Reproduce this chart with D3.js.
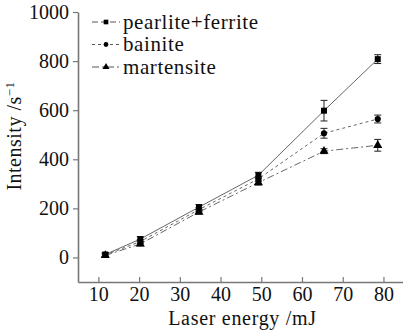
<!DOCTYPE html>
<html>
<head>
<meta charset="utf-8">
<script src="https://cdn.jsdelivr.net/npm/d3@7"></script>
<style>
  body { margin: 0; background: #fff; }
</style>
</head>
<body>
<div id="chart"></div>
<script>
// laser energy (mJ) for each measurement
const energy = [11.7, 20.3, 34.7, 49.3, 65.4, 78.6];

const pearlite = [12, 75, 205, 335, 598, 808];
const pearliteErr = [8, 10, 10, 12, 42, 18];
const bainite = [10, 65, 195, 320, 506, 564];
const bainiteErr = [6, 8, 8, 10, 20, 16];
const martensite = [8, 55, 185, 305, 433, 457];
const martensiteErr = [6, 8, 8, 10, 10, 24];

const seriesNames = ['pearlite+ferrite', 'bainite', 'martensite'];
const xTicks = [10, 20, 30, 40, 50, 60, 70, 80];
const yTicks = [0, 200, 400, 600, 800, 1000];

const width = 403, height = 333;
const margin = { top: 12, right: 0, bottom: 51, left: 78 };
const font = "'Liberation Serif', 'Times New Roman', serif";

const svg = d3.select('#chart').append('svg')
    .attr('width', width)
    .attr('height', height);

const x = d3.scaleLinear()
    .domain([5, 84.8])
    .range([margin.left, width - margin.right]);

const y = d3.scaleLinear()
    .domain([-100, 1000])
    .range([height - margin.bottom, margin.top]);

// axes: left ticks outward, bottom ticks inward
const axisColor = '#777';
const gx = svg.append('g')
    .attr('transform', `translate(0, ${height - margin.bottom})`)
    .call(d3.axisBottom(x).tickValues(xTicks).tickFormat(d3.format('d'))
        .tickSizeInner(-5).tickSizeOuter(0).tickPadding(5));
const gy = svg.append('g')
    .attr('transform', `translate(${margin.left}, 0)`)
    .call(d3.axisLeft(y).tickValues(yTicks).tickFormat(d3.format('d'))
        .tickSizeInner(5).tickSizeOuter(0).tickPadding(4));

[gx, gy].forEach(g => {
    g.attr('font-family', null).attr('font-size', null);
    g.select('.domain').attr('stroke', axisColor).attr('stroke-width', 1.6);
    g.selectAll('.tick line').attr('stroke', axisColor).attr('stroke-width', 1.2);
    g.selectAll('.tick text')
        .style('font-family', font)
        .style('font-size', '20px')
        .attr('fill', '#111');
});

svg.append('text')
    .attr('x', (margin.left + width) / 2 + 2)
    .attr('y', 325)
    .attr('text-anchor', 'middle')
    .style('font-family', font)
    .style('font-size', '20px')
    .attr('letter-spacing', 0.7)
    .attr('fill', '#111')
    .text('Laser energy /mJ');

const yLabel = svg.append('text')
    .attr('transform', 'translate(21, 136) rotate(-90)')
    .attr('text-anchor', 'middle')
    .style('font-family', font)
    .style('font-size', '20px')
    .attr('letter-spacing', 0.5)
    .attr('fill', '#111');
yLabel.append('tspan').text('Intensity /s');
yLabel.append('tspan').attr('dy', -7).style('font-size', '13px').text('\u22121');

const series = [
    { name: seriesNames[0], values: pearlite, err: pearliteErr, dash: null, symbol: d3.symbolSquare, size: 36 },
    { name: seriesNames[1], values: bainite, err: bainiteErr, dash: '3,3', symbol: d3.symbolCircle, size: 30 },
    { name: seriesNames[2], values: martensite, err: martensiteErr, dash: '7,3,2,3', symbol: d3.symbolTriangle, size: 36 }
];

const line = d3.line()
    .x((d, i) => x(energy[i]))
    .y(d => y(d));

series.forEach(s => {
    const g = svg.append('g');
    g.append('path')
        .attr('d', line(s.values))
        .attr('fill', 'none')
        .attr('stroke', '#555')
        .attr('stroke-width', 0.9)
        .attr('stroke-dasharray', s.dash);

    // error bars
    const eb = g.selectAll('g.err')
        .data(s.values)
        .join('g')
        .attr('class', 'err');
    eb.append('line')
        .attr('x1', (d, i) => x(energy[i]))
        .attr('x2', (d, i) => x(energy[i]))
        .attr('y1', (d, i) => y(d - s.err[i]))
        .attr('y2', (d, i) => y(d + s.err[i]))
        .attr('stroke', '#222');
    [-1, 1].forEach(sign => {
        eb.append('line')
            .attr('x1', (d, i) => x(energy[i]) - 3.5)
            .attr('x2', (d, i) => x(energy[i]) + 3.5)
            .attr('y1', (d, i) => y(d + sign * s.err[i]))
            .attr('y2', (d, i) => y(d + sign * s.err[i]))
            .attr('stroke', '#222');
    });

    g.selectAll('path.marker')
        .data(s.values)
        .join('path')
        .attr('class', 'marker')
        .attr('transform', (d, i) => `translate(${x(energy[i])}, ${y(d)})`)
        .attr('d', d3.symbol(s.symbol, s.size))
        .attr('fill', '#000');
});

// legend
const legend = svg.append('g').attr('transform', 'translate(92, 22)');
series.forEach((s, i) => {
    const row = legend.append('g').attr('transform', `translate(0, ${i * 22.5})`);
    row.append('line')
        .attr('x1', 0).attr('x2', 28)
        .attr('stroke', '#444')
        .attr('stroke-width', 0.9)
        .attr('stroke-dasharray', s.dash ? s.dash : '6,3');
    row.append('path')
        .attr('transform', 'translate(14, 0)')
        .attr('d', d3.symbol(s.symbol, s.size * 0.6))
        .attr('fill', '#000');
    row.append('text')
        .attr('x', 31)
        .attr('y', 6.5)
        .style('font-family', font)
        .style('font-size', '21px')
        .attr('letter-spacing', 0.6)
        .attr('fill', '#111')
        .text(s.name);
});
</script>
</body>
</html>
